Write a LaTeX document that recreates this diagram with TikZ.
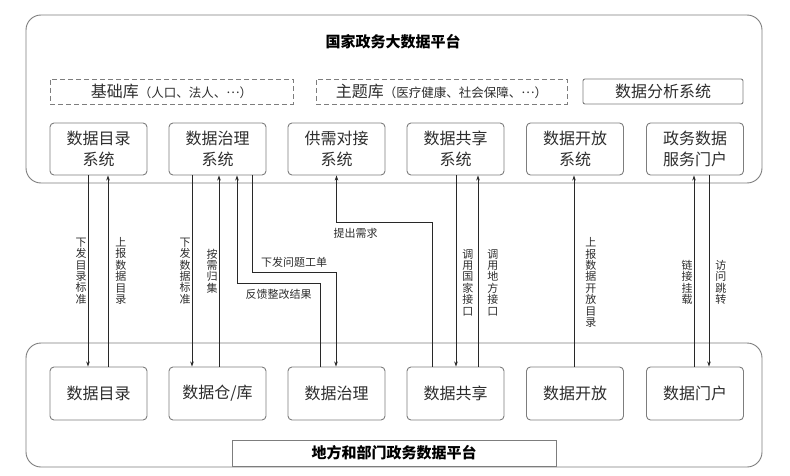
\documentclass[tikz,border=0pt]{standalone}
\usepackage{fontspec}
\setmainfont{Noto Sans CJK SC}
\usetikzlibrary{arrows.meta}
\definecolor{boxgray}{RGB}{125,125,125}
\definecolor{linegray}{RGB}{40,40,40}
\definecolor{textgray}{RGB}{45,45,45}
\newcommand{\middots}{\raisebox{0.3em}{…}}

\begin{document}
\begin{tikzpicture}[x=1pt, y=-1pt,
    platform/.style={draw=boxgray, rounded corners=15pt, line width=0.9pt, minimum width=736pt},
    sysbox/.style={draw=boxgray, rounded corners=4pt, line width=0.9pt, minimum width=97pt, minimum height=52pt, align=center, text=textgray, font=\fontsize{16}{21}\selectfont},
    libbox/.style={draw=boxgray, line width=0.9pt, dash pattern=on 5pt off 3pt, minimum height=25pt, text=textgray},
    arr/.style={-{Stealth[length=5pt, width=3.5pt]}, line width=0.9pt, draw=linegray},
    vlab/.style={font=\fontsize{11}{11.4}\selectfont, align=center, inner sep=1pt, text=textgray},
    hlab/.style={font=\fontsize{11}{13}\selectfont, inner sep=2pt, text=textgray}]
\useasboundingbox (0,0) rectangle (790,476);

% the two platforms
\node[platform, minimum height=168pt] (nation) at (394,99) {};
\node[platform, minimum height=124pt] (local) at (394,405) {};
\node[font=\fontsize{15}{15}\selectfont\bfseries, text=black] (nationtitle) at (393,42) {国家政务大数据平台};
\node[draw=boxgray, line width=0.9pt, minimum width=324pt, minimum height=26pt, font=\fontsize{15}{15}\selectfont\bfseries, text=black] (localtitle) at (394,453) {地方和部门政务数据平台};

% libraries
\node[libbox, minimum width=243pt] (jichuku) at (171.5,91.5) {{\fontsize{16}{16}\selectfont 基础库}{\fontsize{12.5}{12.5}\selectfont （人口、法人、\middots）}};
\node[libbox, minimum width=251pt] (zhutiku) at (441.5,91.5) {{\fontsize{16}{16}\selectfont 主题库}{\fontsize{12.5}{12.5}\selectfont （医疗健康、社会保障、\middots）}};
\node[draw=boxgray, line width=0.9pt, rounded corners=2pt, minimum width=160pt, minimum height=25pt, text=textgray, font=\fontsize{16}{16}\selectfont] (fenxi) at (663,91.5) {数据分析系统};

% national systems
\node[sysbox] (tmulu) at (98.5,149) {数据目录\\系统};
\node[sysbox] (tzhili) at (217.5,149) {数据治理\\系统};
\node[sysbox] (tgongxu) at (336.5,149) {供需对接\\系统};
\node[sysbox] (tgongxiang) at (455.5,149) {数据共享\\系统};
\node[sysbox] (tkaifang) at (575,149) {数据开放\\系统};
\node[sysbox] (tmenhu) at (695,149) {政务数据\\服务门户};

% local systems
\node[sysbox, minimum height=53pt] (bmulu) at (98.5,393.5) {数据目录};
\node[sysbox, minimum height=53pt] (bcangku) at (217.5,393.5) {数据仓/库};
\node[sysbox, minimum height=53pt] (bzhili) at (336.5,393.5) {数据治理};
\node[sysbox, minimum height=53pt] (bgongxiang) at (455.5,393.5) {数据共享};
\node[sysbox, minimum height=53pt] (bkaifang) at (575,393.5) {数据开放};
\node[sysbox, minimum height=53pt] (bmenhu) at (695,393.5) {数据门户};

% catalogue
\draw[arr] ([xshift=-10.5pt]tmulu.south) -- ([xshift=-10.5pt]bmulu.north) node[vlab, midway, left] {下\\发\\目\\录\\标\\准};
\draw[arr] ([xshift=9.5pt]bmulu.north) -- ([xshift=9.5pt]tmulu.south) node[vlab, midway, right=6pt] {上\\报\\数\\据\\目\\录};

% governance
\draw[arr] ([xshift=-25.5pt]tzhili.south) -- ([xshift=-25.5pt]bcangku.north) node[vlab, midway, left] {下\\发\\数\\据\\标\\准};
\draw[arr] ([xshift=1.5pt]bcangku.north) -- ([xshift=1.5pt]tzhili.south) node[vlab, midway, left] {按\\需\\归\\集};
\draw[arr] ([xshift=-16.5pt]bzhili.north) -- ++(0,-83) -| node[hlab, pos=0.25, below=3pt] {反馈整改结果} ([xshift=19.5pt]tzhili.south);
\draw[arr] ([xshift=34.5pt]tzhili.south) -- ++(0,97) -| node[hlab, pos=0.25, above=3pt] {下发问题工单} ([xshift=-0.5pt]bzhili.north);

% supply and demand
\draw[arr] ([xshift=-23.5pt]bgongxiang.north) -- ++(0,-144) -| node[hlab, pos=0.4, below=3pt] {提出需求} (tgongxu.south);

% sharing
\draw[arr] ([xshift=0.5pt]tgongxiang.south) -- ([xshift=0.5pt]bgongxiang.north) node[vlab, pos=0.56, right=5pt] {调\\用\\国\\家\\接\\口};
\draw[arr] ([xshift=22.5pt]bgongxiang.north) -- ([xshift=22.5pt]tgongxiang.south) node[vlab, pos=0.44, right=8pt] {调\\用\\地\\方\\接\\口};

% opening
\draw[arr] ([xshift=-1pt]bkaifang.north) -- ([xshift=-1pt]tkaifang.south) node[vlab, pos=0.44, right=10pt] {上\\报\\数\\据\\开\\放\\目\\录};

% portal
\draw[arr] ([xshift=-1pt]bmenhu.north) -- ([xshift=-1pt]tmenhu.south) node[vlab, pos=0.44, left] {链\\接\\挂\\载};
\draw[arr] ([xshift=14pt]tmenhu.south) -- ([xshift=14pt]bmenhu.north) node[vlab, pos=0.56, right=5pt] {访\\问\\跳\\转};
\end{tikzpicture}
\end{document}
